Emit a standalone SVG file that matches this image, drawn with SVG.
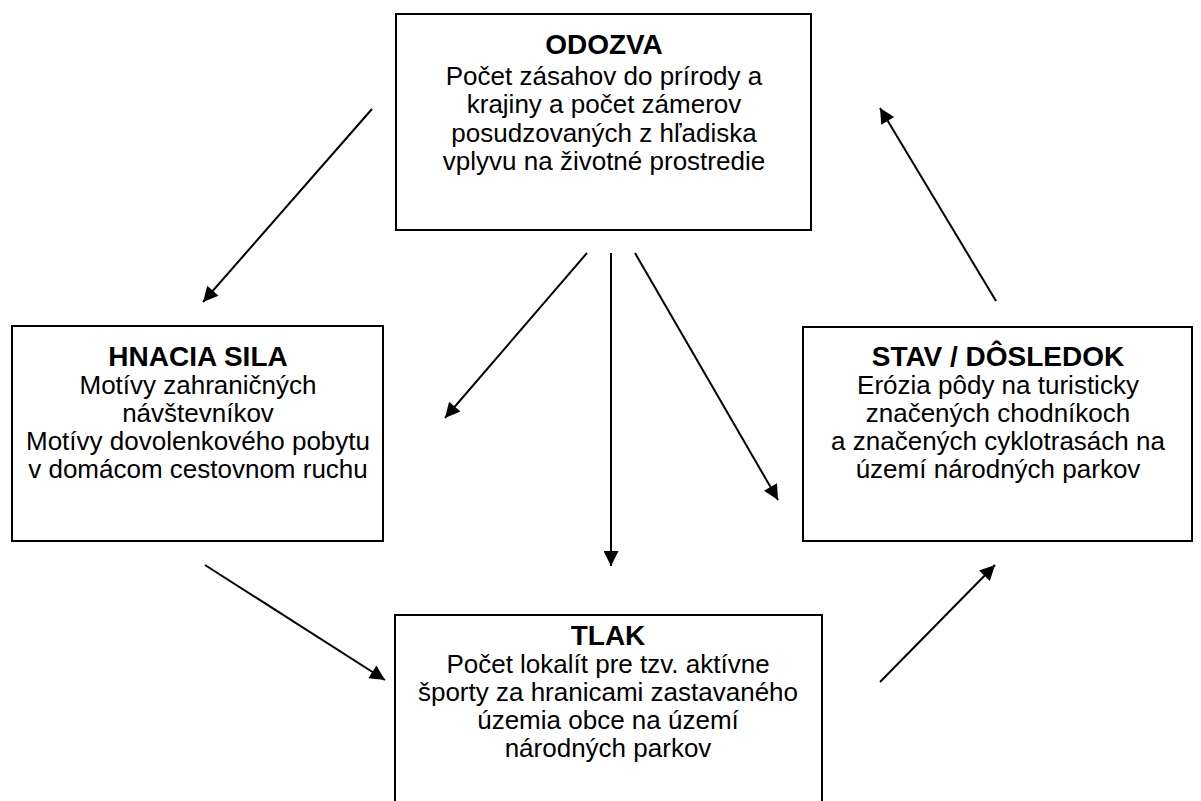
<svg xmlns="http://www.w3.org/2000/svg" width="1201" height="801" viewBox="0 0 1201 801">
<style>
.box{fill:#fff;stroke:#000;stroke-width:2}
.t{font-family:"Liberation Sans",Arial,sans-serif;font-size:26px;fill:#000;text-anchor:middle}
.b{font-weight:bold;font-size:28px}
.c{stroke:#000;stroke-width:2;fill:none;marker-end:url(#ah)}
</style>
<defs>
<marker id="ah" viewBox="0 0 10 10" refX="10" refY="5" markerWidth="10" markerHeight="7.5" markerUnits="strokeWidth" orient="auto"><path d="M0,0 L10,5 L0,10 z" fill="#000"/></marker>
</defs>
<g id="odozva">
<rect class="box" x="396" y="14" width="415" height="216"/>
<text class="t b" x="604" y="54">ODOZVA</text>
<text class="t" x="604" y="85">Počet zásahov do prírody a</text>
<text class="t" x="604" y="113">krajiny a počet zámerov</text>
<text class="t" x="604" y="142">posudzovaných z hľadiska</text>
<text class="t" x="604" y="170">vplyvu na životné prostredie</text>
</g>
<g id="hnacia">
<rect class="box" x="12" y="326" width="371" height="215"/>
<text class="t b" x="198" y="366">HNACIA SILA</text>
<text class="t" x="198" y="394">Motívy zahraničných</text>
<text class="t" x="198" y="422">návštevníkov</text>
<text class="t" x="198" y="450">Motívy dovolenkového pobytu</text>
<text class="t" x="198" y="478">v domácom cestovnom ruchu</text>
</g>
<g id="stav">
<rect class="box" x="803" y="327" width="389" height="214"/>
<text class="t b" x="998" y="366">STAV / DÔSLEDOK</text>
<text class="t" x="998" y="394">Erózia pôdy na turisticky</text>
<text class="t" x="998" y="422">značených chodníkoch</text>
<text class="t" x="998" y="450">a značených cyklotrasách na</text>
<text class="t" x="998" y="478">území národných parkov</text>
</g>
<g id="tlak">
<rect class="box" x="395" y="615" width="427" height="200"/>
<text class="t b" x="608" y="645">TLAK</text>
<text class="t" x="608" y="673">Počet lokalít pre tzv. aktívne</text>
<text class="t" x="608" y="701">športy za hranicami zastavaného</text>
<text class="t" x="608" y="729">územia obce na území</text>
<text class="t" x="608" y="757">národných parkov</text>
</g>
<g id="connectors">
<line class="c" x1="372" y1="109" x2="203" y2="302"/>
<line class="c" x1="587" y1="253" x2="445" y2="418"/>
<line class="c" x1="611" y1="253" x2="611" y2="566"/>
<line class="c" x1="635" y1="253" x2="778" y2="500"/>
<line class="c" x1="205" y1="565" x2="385" y2="680"/>
<line class="c" x1="880" y1="682" x2="995" y2="565"/>
<line class="c" x1="996" y1="301" x2="880" y2="108"/>
</g>
</svg>
